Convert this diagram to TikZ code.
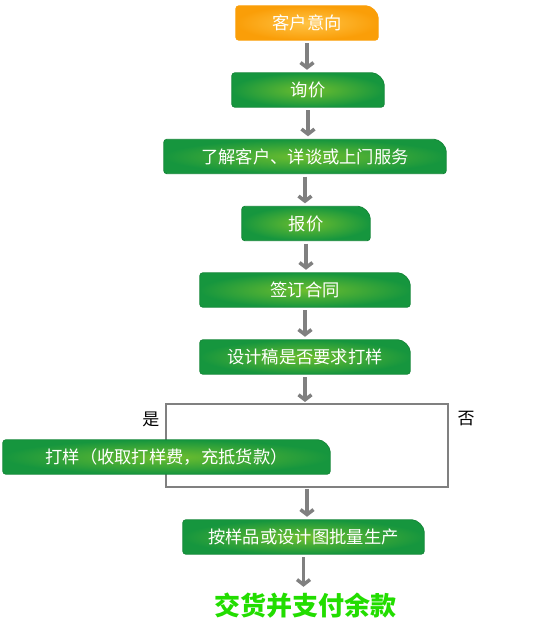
\documentclass[tikz,border=0pt]{standalone}
\usepackage{fontspec}
\newfontfamily\cjk{Noto Sans CJK SC}
\usetikzlibrary{arrows.meta,backgrounds}
\definecolor{boxgreen}{RGB}{22,150,62}
\definecolor{boxlight}{RGB}{110,190,46}
\definecolor{boxorange}{RGB}{250,158,8}
\definecolor{orangelight}{RGB}{255,196,70}
\definecolor{flowgray}{RGB}{128,128,128}
\definecolor{endgreen}{RGB}{34,221,0}
\tikzset{
  stepbox/.style={minimum height=34pt, inner sep=0pt, text=white, font=\cjk\fontsize{17.3}{17.3}\selectfont},
  flow/.style={flowgray, line width=3.5pt, -{Straight Barb[length=5pt,width=13pt]}, shorten <=3pt, shorten >=3pt},
  greenfill/.style={draw=boxgreen!90!black, line width=0.8pt, inner color=boxlight, outer color=boxgreen},
  orangefill/.style={draw=boxorange, line width=0.8pt, inner color=orangelight, outer color=boxorange},
}
% box with one big round corner
\newcommand{\tabshape}[2]{%
  \path[#2, rounded corners=3pt] (#1.south west) -- (#1.north west)
    -- ([xshift=-15pt]#1.north east) arc[start angle=90, end angle=0, radius=15pt]
    -- (#1.south east) -- cycle;}
\begin{document}
\begin{tikzpicture}[x=1pt,y=1pt]
  \useasboundingbox (0,0) rectangle (558,643);
  \node[stepbox, minimum width=142pt] (intent) at (307,620) {客户意向};
  \node[stepbox, minimum width=152pt] (inquiry) at (308,553) {询价};
  \node[stepbox, minimum width=282pt] (consult) at (305,486.5) {了解客户、详谈或上门服务};
  \node[stepbox, minimum width=128pt] (quote) at (306,419.5) {报价};
  \node[stepbox, minimum width=210pt] (contract) at (305,353) {签订合同};
  \node[stepbox, minimum width=210pt] (design) at (305,286) {设计稿是否要求打样};
  \node[stepbox, minimum width=327pt] (sample) at (166.5,186) {打样（收取打样费，充抵货款）};
  \node[stepbox, minimum width=241pt] (produce) at (303.5,106) {按样品或设计图批量生产};
  \node[font=\cjk\bfseries\fontsize{26}{26}\selectfont, text=endgreen] (deliver) at (305,37) {交货并支付余款};

  \begin{scope}[on background layer]
    \node[draw=flowgray, line width=2pt, minimum width=282pt, minimum height=83pt, inner sep=0pt] (choice) at (307,197.5) {};
    \tabshape{intent}{orangefill}
    \foreach \n in {inquiry,consult,quote,contract,design,sample,produce}
      \tabshape{\n}{greenfill};
  \end{scope}

  \node[anchor=east, font=\cjk\fontsize{17}{17}\selectfont] (yes) at ([xshift=-2pt,yshift=-16pt]choice.north west) {是};
  \node[anchor=west, font=\cjk\fontsize{17}{17}\selectfont] (no) at ([xshift=5pt,yshift=-16pt]choice.north east) {否};

  \draw[flow] (intent.south) -- (intent.south |- inquiry.north);
  \draw[flow] (inquiry.south) -- (inquiry.south |- consult.north);
  \draw[flow] (consult.south) -- (consult.south |- quote.north);
  \draw[flow] (quote.south) -- (quote.south |- contract.north);
  \draw[flow] (contract.south) -- (contract.south |- design.north);
  \draw[flow, shorten >=1pt] (design.south) -- (design.south |- choice.north);
  \draw[flow, shorten <=1pt] (choice.south) -- (choice.south |- produce.north);
  \draw[flow] (produce.south) -- (produce.south |- deliver.north);
\end{tikzpicture}
\end{document}
